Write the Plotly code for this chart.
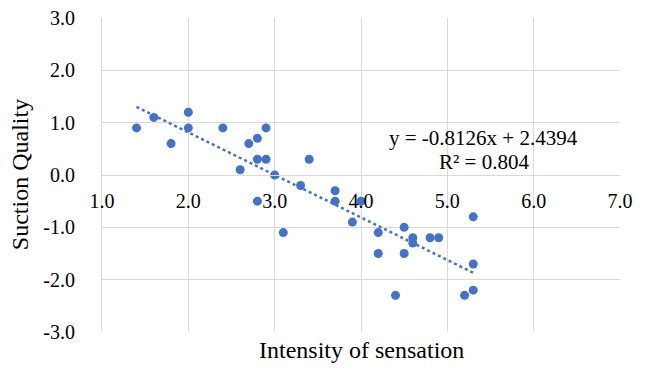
import numpy as np
import plotly.graph_objects as go

intensity = [1.4, 1.6, 1.8, 2.0, 2.0, 2.4, 2.6, 2.7, 2.8, 2.8, 2.8, 2.9, 2.9, 3.0, 3.1, 3.3, 3.4,
             3.7, 3.7, 3.9, 4.0, 4.2, 4.2, 4.4, 4.5, 4.5, 4.6, 4.6, 4.8, 4.9, 5.2, 5.3, 5.3, 5.3]
suction = [0.9, 1.1, 0.6, 1.2, 0.9, 0.9, 0.1, 0.6, 0.7, 0.3, -0.5, 0.9, 0.3, 0.0, -1.1, -0.2, 0.3,
           -0.3, -0.5, -0.9, -0.5, -1.1, -1.5, -2.3, -1.0, -1.5, -1.2, -1.3, -1.2, -1.2, -2.3, -0.8, -1.7, -2.2]
slope = -0.8126
intercept = 2.4394
r2 = 0.804
x_ticks = [1, 2, 3, 4, 5, 6, 7]
y_ticks = [-3, -2, -1, 0, 1, 2, 3]

blue = "#4472C4"
grid = "#d9d9d9"
font = "Liberation Serif"

xs = np.array([min(intensity), max(intensity)])
ys = slope * xs + intercept

fig = go.Figure()
fig.add_trace(go.Scatter(x=xs, y=ys, mode="lines",
                         line=dict(color=blue, width=2.5, dash="dot"), hoverinfo="skip"))
fig.add_trace(go.Scatter(x=intensity, y=suction, mode="markers",
                         marker=dict(color=blue, size=9)))

fig.update_layout(
    width=646, height=372,
    margin=dict(l=102, r=26, t=18, b=40, autoexpand=False),
    paper_bgcolor="white", plot_bgcolor="white",
    showlegend=False,
    font=dict(family=font, size=20, color="#000000"),
    xaxis=dict(range=[1, 7], tickvals=x_ticks, ticktext=[f"{v:.1f}" for v in x_ticks],
               showgrid=True, gridcolor=grid, gridwidth=1,
               showline=True, linecolor=grid, linewidth=1,
               anchor="free", position=0.5, zeroline=False, automargin=False,
               ticks="", ticklabelstandoff=8, ticklabeloverflow="allow",
               tickfont=dict(family=font, size=20)),
    yaxis=dict(range=[-3, 3], tickvals=y_ticks, ticktext=[f"{v:.1f}" for v in y_ticks],
               showgrid=True, gridcolor=grid, gridwidth=1,
               showline=True, linecolor=grid, linewidth=1, zeroline=False, automargin=False,
               ticks="", ticklabelstandoff=22, ticklabeloverflow="allow",
               tickfont=dict(family=font, size=20)),
    annotations=[
        dict(text="Intensity of sensation", xref="paper", yref="paper", x=0.5, y=-0.01,
             xanchor="center", yanchor="top", showarrow=False,
             font=dict(family=font, size=24)),
        dict(text="Suction Quality", xref="paper", yref="paper", x=-0.158, y=0.5,
             xanchor="center", yanchor="middle", textangle=-90, showarrow=False,
             font=dict(family=font, size=24)),
        dict(text=f"y = {slope:.4f}x + {intercept:.4f}", xref="x", yref="y", x=5.42, y=0.7,
             xanchor="center", yanchor="middle", showarrow=False,
             font=dict(family=font, size=21)),
        dict(text=f"R² = {r2:.3f}", xref="x", yref="y", x=5.42, y=0.24,
             xanchor="center", yanchor="middle", showarrow=False,
             font=dict(family=font, size=21)),
    ],
)

fig.write_html("out.html", config={"displayModeBar": False},
               post_script="document.body.style.margin='0';")
